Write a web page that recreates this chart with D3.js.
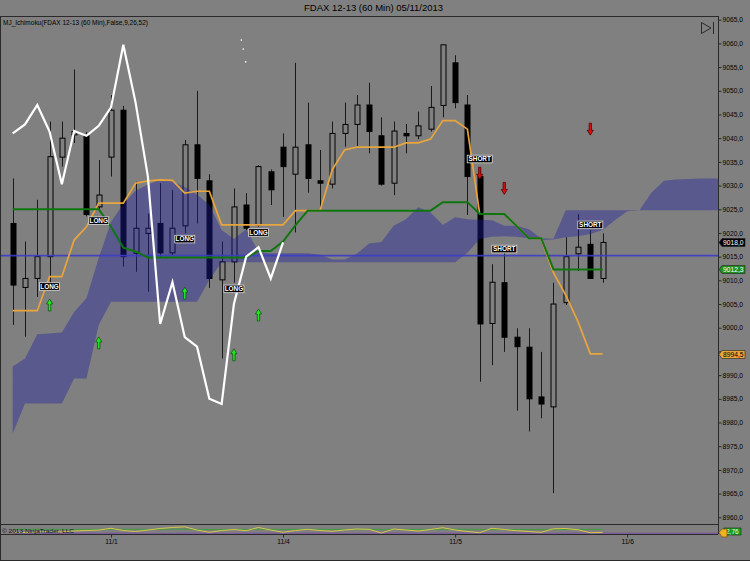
<!DOCTYPE html>
<html>
<head>
<meta charset="utf-8">
<script src="https://cdn.jsdelivr.net/npm/d3@7"></script>
<style>
    html, body { margin: 0; padding: 0; background: #808080; }
    svg { display: block; font-family: "Liberation Sans", Arial, sans-serif; }
</style>
</head>
<body>
<svg id="chart" width="750" height="561"></svg>
<script>
var TITLE = "FDAX 12-13 (60 Min)  05/11/2013";
var INDICATOR_LABEL = "MJ_Ichimoku(FDAX 12-13 (60 Min),False,9,26,52)";
var COPYRIGHT = "\u00a9 2013 NinjaTrader, LLC";

// day separators on the time axis (bar index of first bar of the day)
var dayLabels = ["11/1", "11/4", "11/5", "11/6"];
var dayBars = [8, 22, 36, 50];

var priceTicks = [8960, 8965, 8970, 8975, 8980, 8985, 8990, 8995, 9000, 9005, 9010,
                  9015, 9020, 9025, 9030, 9035, 9040, 9045, 9050, 9055, 9060, 9065];

// hourly candles
var opens = [9022.0, 9008.5, 9010.4, 9015.0, 9036.0, 9040.7, 9040.5, 9025.5, 9036.0, 9045.9,
             9015.7, 9019.9, 9022.0, 9015.8, 9021.5, 9038.6, 9031.0, 9010.1, 9013.9, 9025.9,
             9021.7, 9032.9, 9038.1, 9032.4, 9038.6, 9031.0, 9030.3, 9041.0, 9042.9, 9047.0,
             9040.5, 9030.5, 9041.0, 9040.5, 9041.9, 9046.9, 9055.9, 9047.0, 9031.9, 9000.9,
             9009.5, 8998.0, 8995.9, 8985.4, 8983.3, 9005.3, 9015.6, 9017.6, 9010.4];
var highs = [9031.5, 9018.2, 9027.0, 9043.5, 9043.5, 9054.5, 9041.3, 9035.4, 9049.1, 9046.8,
             9030.8, 9024.1, 9030.5, 9029.1, 9039.6, 9050.0, 9032.4, 9018.2, 9029.4, 9028.4,
             9034.3, 9033.4, 9041.0, 9055.9, 9047.5, 9037.5, 9043.5, 9047.5, 9049.1, 9051.7,
             9044.4, 9043.5, 9043.0, 9045.6, 9051.0, 9059.7, 9057.5, 9049.1, 9033.3, 9013.4,
             9015.7, 8999.9, 8999.9, 8994.9, 9009.5, 9019.1, 9024.0, 9020.6, 9019.9];
var lows = [9000.6, 8998.1, 9006.5, 9009.4, 9034.0, 9039.0, 9023.5, 9024.5, 9031.9, 9012.9,
            9011.8, 9007.6, 9015.0, 9015.3, 9019.9, 9022.0, 9008.4, 8993.5, 9009.5, 9020.6,
            9021.3, 9025.9, 9023.4, 9020.1, 9028.5, 9024.8, 9029.4, 9038.2, 9038.3, 9036.8,
            9030.0, 9028.0, 9036.8, 9039.8, 9041.4, 9044.4, 9046.3, 9023.8, 8988.6, 8992.1,
            8994.9, 8982.5, 8978.1, 8980.9, 8965.1, 9004.8, 9012.0, 9010.4, 9009.5];
var closes = [9009.0, 9010.4, 9015.0, 9036.1, 9040.0, 9041.4, 9023.9, 9028.0, 9045.9, 9015.0,
              9021.0, 9021.0, 9015.8, 9021.0, 9038.6, 9031.5, 9010.4, 9013.9, 9025.5, 9021.0,
              9034.0, 9029.1, 9034.0, 9038.1, 9031.5, 9030.5, 9041.0, 9042.9, 9047.0, 9041.4,
              9030.3, 9041.5, 9040.5, 9042.6, 9046.5, 9059.7, 9047.5, 9031.9, 9000.8, 9009.6,
              8998.0, 8996.0, 8985.0, 8983.9, 9005.0, 9015.0, 9017.0, 9010.4, 9018.0];

// Ichimoku lines as drawn
var tenkan = [9003.6, 9003.6, 9003.6, 9010.8, 9010.8, 9018.5, 9021.3, 9026.3, 9026.3, 9026.3,
              9030.5, 9031.0, 9031.2, 9031.1, 9028.4, 9028.8, 9028.8, 9021.7, 9021.7, 9021.7,
              9021.7, 9021.7, 9021.7, 9024.7, 9024.7, 9024.7, 9033.3, 9037.5, 9038.1, 9038.1,
              9038.1, 9038.1, 9039.0, 9039.0, 9039.8, 9043.7, 9043.7, 9041.9, 9024.0, 9024.0,
              9024.0, 9021.5, 9018.9, 9018.8, 9011.6, 9006.9, 9001.3, 8994.5, 8994.5];
var kijun = [9025.0, 9025.0, 9025.0, 9025.0, 9025.0, 9025.0, 9025.0, 9025.0, 9021.3, 9016.9,
             9016.1, 9014.8, 9014.8, 9014.8, 9014.8, 9014.8, 9014.8, 9014.8, 9014.8, 9014.8,
             9016.2, 9016.2, 9018.2, 9021.6, 9024.7, 9024.7, 9024.7, 9024.7, 9024.7, 9024.7,
             9024.7, 9024.7, 9024.7, 9024.7, 9024.7, 9026.5, 9026.5, 9026.5, 9024.0, 9024.0,
             9024.0, 9021.5, 9018.9, 9018.9, 9012.3, 9012.3, 9012.3, 9012.3, 9012.3];
var chikouShift = 26;

// cloud edges, runs 10 bars past the last candle (clipped by the axis)
var cloudTop = [8991.8, 8993.5, 8998.6, 8998.8, 8999.0, 9003.3, 9006.2, 9014.7, 9022.3, 9026.1,
                9028.9, 9030.2, 9031.2, 9030.9, 9029.7, 9028.1, 9025.9, 9020.6, 9018.7, 9020.8,
                9016.0, 9015.7, 9015.7, 9015.7, 9015.7, 9015.4, 9014.4, 9014.4, 9015.6, 9017.8,
                9018.1, 9021.5, 9022.9, 9025.4, 9024.3, 9021.7, 9023.3, 9022.9, 9022.8, 9022.7,
                9021.5, 9021.5, 9020.8, 9018.9, 9018.8, 9024.8, 9024.8, 9024.8, 9024.8, 9024.8,
                9024.8, 9024.8, 9028.6, 9031.0, 9031.3, 9031.4, 9031.5, 9031.5, 9031.5];
var cloudBottom = [8977.7, 8984.0, 8984.0, 8984.0, 8984.0, 8989.3, 8989.3, 9000.6, 9005.5, 9005.5,
                   9005.5, 9005.5, 9005.5, 9005.5, 9005.5, 9005.5, 9010.1, 9013.8, 9013.8, 9013.8,
                   9013.8, 9013.8, 9013.8, 9013.8, 9013.8, 9013.8, 9013.8, 9013.8, 9013.8, 9013.8,
                   9013.8, 9013.8, 9013.8, 9013.8, 9013.8, 9013.8, 9013.8, 9015.8, 9018.7, 9019.2,
                   9019.3, 9019.2, 9018.9, 9018.5, 9018.6, 9019.1, 9019.3, 9019.8, 9020.6, 9022.7,
                   9024.6, 9024.8, 9024.8, 9024.8, 9024.8, 9024.8, 9024.8, 9024.8, 9024.8];

var blueLevel = 9015.2;

// signals
var longBars = [3, 7, 14, 18, 20];
var longArrowPrices = [9004.8, 8996.8, 9007.3, 8994.3, 9002.7];
var longTagPrices = [9008.7, 9022.6, 9018.7, 9008.2, 9020.1];
var shortBars = [38, 40, 47];
var shortArrowPrices = [9032.6, 9029.4, 9041.9];
var shortTagPrices = [9035.6, 9016.6, 9021.7];

// the three little white dots near the top
var dotBars = [18.6, 18.76, 18.96];
var dotPrices = [9060.7, 9058.8, 9056.1];

// lower indicator panel
var oscYellow = [1.5, 1.5, 2, 2.5, 2, 3, 3.5, 4, 5.7, 3.5, 2.5, 4, 5.5, 6.5, 7.2, 4, 1.7, 3.5, 4.5, 3.3,
                 6.5, 4, 1.7, 3.5, 4.7, 3.5, 2.7, 4, 5, 4.7, 1, 5, 4, 3, 4.5, 6.3, 4, 2.5, 1.3, 5.7,
                 4.5, 3.3, 2.5, 1.7, 5.2, 5.5, 4.2, 1.3, 1.5];
var oscGreen = [4.5, 4.6, 4.6, 4.7, 4.6, 4.5, 4.6, 4.7, 4.8, 4.7, 4.6, 4.6, 4.7, 4.8, 4.8, 4.7, 4.5,
                4.5, 4.6, 4.6, 4.7, 4.7, 4.6, 4.6, 4.7, 4.7, 4.6, 4.6, 4.7, 4.7, 4.6, 4.5, 4.6, 4.6,
                4.7, 4.8, 4.8, 4.7, 4.5, 4.4, 4.5, 4.5, 4.5, 4.4, 4.5, 4.6, 4.6, 4.6, 4.6];
var oscPurple = [1.4, 1.3, 1.2, 1.3, 1.4, 1.5, 1.4, 1.3, 1.4, 1.5, 1.4, 1.3, 1.2, 1.3, 1.4, 1.4, 1.3,
                 1.2, 1.3, 1.4, 1.5, 1.4, 1.3, 1.3, 1.4, 1.5, 1.4, 1.3, 1.2, 1.3, 1.4, 1.5, 1.4, 1.3,
                 1.3, 1.4, 1.5, 1.4, 1.3, 1.2, 1.3, 1.4, 1.4, 1.3, 1.3, 1.4, 1.5, 1.5, 1.5, 1.5,
                 1.5, 1.5, 1.5, 1.5, 1.5, 1.5, 1.5, 1.5, 1.5];
var oscLast = 2.76;

var colors = {
    back: "#808080",
    frame: "#2a2a2a",
    wick: "#1a1a1a",
    down: "#000000",
    up: "#808080",
    cloud: "rgb(30,30,160)",
    blue: "#3c3cc8",
    tenkan: "#e8a53c",
    kijun: "#0f760f",
    chikou: "#ffffff",
    longArrow: "#22e622",
    shortArrow: "#d01010",
    oscYellow: "#d9c84a",
    oscGreen: "#3d9d3d",
    oscPurple: "#7a5c98"
};

var box = { left: 1, right: 718, top: 16, bottom: 524, panelBottom: 534 };

var svg = d3.select("#chart");
var x = d3.scaleLinear().domain([0, 48]).range([12.7, 602.6]);
var y = d3.scaleLinear().domain([8960, 9065]).range([517.3, 19.7]);
var yOsc = d3.scaleLinear().domain([0, 10]).range([box.panelBottom, box.bottom]);

// values that get a coloured tag on the price axis
var axisTags = [
    { value: closes[closes.length - 1], fill: "#000", ink: "#fff" },
    { value: kijun[kijun.length - 1], fill: "#1f8f1f", ink: "#fff" },
    { value: tenkan[tenkan.length - 1], fill: colors.tenkan, ink: "#000" }
];

function fmt(v) {
    return d3.format(".1f")(v).replace(".", ",");
}

function drawFrame() {
    svg.append("rect")
        .attr("width", 750).attr("height", 561)
        .attr("fill", colors.back);

    svg.append("text")
        .attr("x", 373.5).attr("y", 11)
        .attr("text-anchor", "middle")
        .attr("font-size", "9.4px")
        .attr("textLength", 139)
        .attr("lengthAdjust", "spacingAndGlyphs")
        .attr("fill", "#000")
        .text(TITLE);

    var lines = [
        [0, box.top + 0.5, box.right, box.top + 0.5],
        [0, box.bottom + 0.5, box.right, box.bottom + 0.5],
        [0, box.panelBottom + 0.5, box.right, box.panelBottom + 0.5],
        [0.5, box.top, 0.5, 560],
        [box.right + 0.5, box.top, box.right + 0.5, box.panelBottom],
        [0, 560.5, 750, 560.5]
    ];
    svg.append("g").selectAll("line")
        .data(lines)
        .enter()
        .append("line")
            .attr("x1", function (d) { return d[0]; })
            .attr("y1", function (d) { return d[1]; })
            .attr("x2", function (d) { return d[2]; })
            .attr("y2", function (d) { return d[3]; })
            .attr("stroke", colors.frame)
            .attr("stroke-width", 1);
}

function drawCandles(g) {
    var candles = opens.map(function (o, i) {
        return { i: i, open: o, high: highs[i], low: lows[i], close: closes[i] };
    });

    g.append("g").selectAll("line")
        .data(candles)
        .enter()
        .append("line")
            .attr("x1", function (d) { return Math.round(x(d.i)) + 0.5; })
            .attr("x2", function (d) { return Math.round(x(d.i)) + 0.5; })
            .attr("y1", function (d) { return y(d.high); })
            .attr("y2", function (d) { return y(d.low); })
            .attr("stroke", colors.wick)
            .attr("stroke-width", 1);

    g.append("g").selectAll("rect")
        .data(candles)
        .enter()
        .append("rect")
            .attr("x", function (d) { return Math.round(x(d.i)) - 2; })
            .attr("y", function (d) { return y(Math.max(d.open, d.close)); })
            .attr("width", 5)
            .attr("height", function (d) { return Math.max(1.5, Math.abs(y(d.open) - y(d.close))); })
            .attr("fill", function (d) { return d.close >= d.open ? colors.up : colors.down; })
            .attr("stroke", "#000")
            .attr("stroke-width", 1);
}

function drawCloud(g) {
    var area = d3.area()
        .x(function (d, i) { return x(i); })
        .y0(function (d, i) { return y(cloudBottom[i]); })
        .y1(function (d) { return y(d); });
    g.append("path")
        .datum(cloudTop)
        .attr("d", area)
        .attr("fill", colors.cloud)
        .attr("fill-opacity", 0.4);
}

function drawLines(g) {
    g.append("line")
        .attr("x1", box.left).attr("x2", box.right)
        .attr("y1", y(blueLevel)).attr("y2", y(blueLevel))
        .attr("stroke", colors.blue)
        .attr("stroke-opacity", 0.9)
        .attr("stroke-width", 1.7);

    var line = d3.line()
        .x(function (d, i) { return x(i); })
        .y(function (d) { return y(d); });

    g.append("path").datum(tenkan)
        .attr("d", line)
        .attr("fill", "none")
        .attr("stroke", colors.tenkan)
        .attr("stroke-width", 1.7);

    g.append("path").datum(kijun)
        .attr("d", line)
        .attr("fill", "none")
        .attr("stroke", colors.kijun)
        .attr("stroke-width", 2);

    // lagging span = closes pushed back 26 bars
    g.append("path").datum(closes.slice(chikouShift))
        .attr("d", line)
        .attr("fill", "none")
        .attr("stroke", colors.chikou)
        .attr("stroke-width", 2.2)
        .attr("stroke-linejoin", "miter");

    g.append("g").selectAll("circle")
        .data(dotBars)
        .enter()
        .append("circle")
            .attr("cx", function (d) { return x(d); })
            .attr("cy", function (d, i) { return y(dotPrices[i]); })
            .attr("r", 0.8)
            .attr("fill", "#fff");
}

function drawSignals(g) {
    var longs = longBars.map(function (b, i) {
        return { bar: b, arrow: longArrowPrices[i], tag: longTagPrices[i], text: "LONG", dir: -1 };
    });
    var shorts = shortBars.map(function (b, i) {
        return { bar: b, arrow: shortArrowPrices[i], tag: shortTagPrices[i], text: "SHORT", dir: 1 };
    });
    var all = longs.concat(shorts);

    // block arrows, drawn pointing up and flipped for shorts
    var shape = [[0, -6], [3.1, -1], [1.2, -1], [1.2, 6], [-1.2, 6], [-1.2, -1], [-3.1, -1]];
    g.append("g").selectAll("path")
        .data(all)
        .enter()
        .append("path")
            .attr("d", function (d) {
                var cx = x(d.bar), cy = y(d.arrow);
                return "M" + shape.map(function (p) {
                    return (cx + p[0]) + "," + (cy + (d.dir < 0 ? p[1] : -p[1]));
                }).join("L") + "Z";
            })
            .attr("fill", function (d) { return d.dir < 0 ? colors.longArrow : colors.shortArrow; })
            .attr("stroke", function (d) { return d.dir < 0 ? "#0a4a0a" : "#4a0000"; })
            .attr("stroke-width", 0.7);

    var tags = g.append("g").selectAll("g")
        .data(all)
        .enter()
        .append("g")
            .attr("transform", function (d) { return "translate(" + x(d.bar) + "," + y(d.tag) + ")"; });

    tags.append("rect")
        .attr("x", function (d) { return d.text === "LONG" ? -10 : -12.5; })
        .attr("y", -3.8)
        .attr("width", function (d) { return d.text === "LONG" ? 20 : 25; })
        .attr("height", 7.6)
        .attr("fill", "#000")
        .attr("stroke", "#e0e0e0")
        .attr("stroke-width", 0.8);

    tags.append("text")
        .attr("text-anchor", "middle")
        .attr("y", 2.3)
        .attr("font-size", "6.4px")
        .attr("font-weight", "bold")
        .attr("fill", "#fff")
        .text(function (d) { return d.text; });
}

function drawOscillator(g) {
    var idx = function (d, i) { return x(i); };
    g.append("path").datum(oscPurple)
        .attr("d", d3.area().x(idx).y0(yOsc(0)).y1(function (d) { return yOsc(d); }))
        .attr("fill", colors.oscPurple);
    g.append("path").datum(oscGreen)
        .attr("d", d3.line().x(idx).y(function (d) { return yOsc(d); }))
        .attr("fill", "none").attr("stroke", colors.oscGreen).attr("stroke-width", 1);
    g.append("path").datum(oscYellow)
        .attr("d", d3.line().x(idx).y(function (d) { return yOsc(d); }))
        .attr("fill", "none").attr("stroke", colors.oscYellow).attr("stroke-width", 1);

    svg.append("text")
        .attr("x", 2).attr("y", 532.6)
        .attr("font-size", "6.2px")
        .attr("textLength", 72)
        .attr("lengthAdjust", "spacingAndGlyphs")
        .attr("fill", "#10102a")
        .text(COPYRIGHT);
}

function addPriceAxis() {
    var axis = d3.axisRight(y)
        .tickValues(priceTicks)
        .tickSize(3)
        .tickPadding(1)
        .tickFormat(fmt);
    var g = svg.append("g")
        .attr("transform", "translate(" + (box.right + 0.5) + ",0)")
        .call(axis);
    g.select(".domain").remove();
    g.selectAll(".tick line").attr("stroke", colors.frame);
    g.selectAll(".tick text")
        .attr("font-size", "6.7px")
        .attr("font-family", "Liberation Sans, Arial, sans-serif")
        .attr("fill", "#000")
        // a label sitting under one of the coloured tags is hidden, as on the original
        .style("display", function (d) {
            var covered = axisTags.some(function (t) { return Math.abs(y(t.value) - y(d)) < 6; });
            return covered ? "none" : null;
        });
}

function addTimeAxis() {
    var axis = d3.axisBottom(x)
        .tickValues(dayBars)
        .tickSize(3)
        .tickPadding(2)
        .tickFormat(function (d, i) { return dayLabels[i]; });
    var g = svg.append("g")
        .attr("transform", "translate(0," + (box.panelBottom + 0.5) + ")")
        .call(axis);
    g.select(".domain").remove();
    g.selectAll(".tick line").attr("stroke", colors.frame);
    g.selectAll(".tick text")
        .attr("font-size", "6.7px")
        .attr("font-family", "Liberation Sans, Arial, sans-serif")
        .attr("fill", "#000");
}

function addPriceTag(tag) {
    var yy = Math.round(y(tag.value)) + 0.5;
    var left = box.right + 1;
    var g = svg.append("g");
    g.append("path")
        .attr("d", "M" + left + "," + yy + "L" + (left + 3) + "," + (yy - 4) +
                   "L" + (left + 26) + "," + (yy - 4) + "L" + (left + 26) + "," + (yy + 4) +
                   "L" + (left + 3) + "," + (yy + 4) + "Z")
        .attr("fill", tag.fill)
        .attr("stroke", "#202020")
        .attr("stroke-width", 0.6);
    g.append("text")
        .attr("x", left + 4).attr("y", yy + 2.5)
        .attr("font-size", "6.7px")
        .attr("fill", tag.ink)
        .text(fmt(tag.value));
}

function addOscTag() {
    var yy = Math.round(yOsc(oscLast)) + 0.5;
    var left = box.right + 1;
    svg.append("rect")
        .attr("x", left + 5).attr("y", yy - 3.5)
        .attr("width", 17).attr("height", 7)
        .attr("fill", "#1f9a1f")
        .attr("stroke", "#0a3a0a")
        .attr("stroke-width", 0.6);
    svg.append("text")
        .attr("x", left + 7).attr("y", yy + 2.3)
        .attr("font-size", "6.5px")
        .attr("fill", "#e8ffe8")
        .text(d3.format(".2f")(oscLast).replace(".", ","));
    // small orange marker in front of the tag
    svg.append("path")
        .attr("d", "M" + left + "," + (yy + 1) + "L" + (left + 3) + "," + (yy - 2.5) +
                   "L" + (left + 8) + "," + (yy - 2.5) + "L" + (left + 8) + "," + (yy + 5.5) +
                   "L" + (left + 3) + "," + (yy + 5.5) + "Z")
        .attr("fill", "#f2b120")
        .attr("stroke", "#6a4500")
        .attr("stroke-width", 0.6);
}

function addScrollIcon() {
    svg.append("path")
        .attr("d", "M701.5,22.5L701.5,33.5L711,28Z M713.5,22 L713.5,34")
        .attr("fill", "none")
        .attr("stroke", "#2a2a2a")
        .attr("stroke-width", 1);
}

drawFrame();

svg.append("defs").append("clipPath").attr("id", "plot-clip")
    .append("rect")
        .attr("x", box.left).attr("y", box.top + 1)
        .attr("width", box.right - box.left).attr("height", box.bottom - box.top - 1);
svg.append("defs").append("clipPath").attr("id", "osc-clip")
    .append("rect")
        .attr("x", box.left).attr("y", box.bottom + 1)
        .attr("width", box.right - box.left).attr("height", box.panelBottom - box.bottom - 1);

var plot = svg.append("g").attr("clip-path", "url(#plot-clip)");

svg.append("text")
    .attr("x", 3).attr("y", 25)
    .attr("font-size", "6.4px")
    .attr("textLength", 145)
    .attr("lengthAdjust", "spacingAndGlyphs")
    .attr("fill", "#000")
    .text(INDICATOR_LABEL);

drawCandles(plot);
drawCloud(plot);
drawLines(plot);
drawSignals(plot);
drawOscillator(svg.append("g").attr("clip-path", "url(#osc-clip)"));

addPriceAxis();
addTimeAxis();
addScrollIcon();
axisTags.forEach(addPriceTag);
addOscTag();
</script>
</body>
</html>
